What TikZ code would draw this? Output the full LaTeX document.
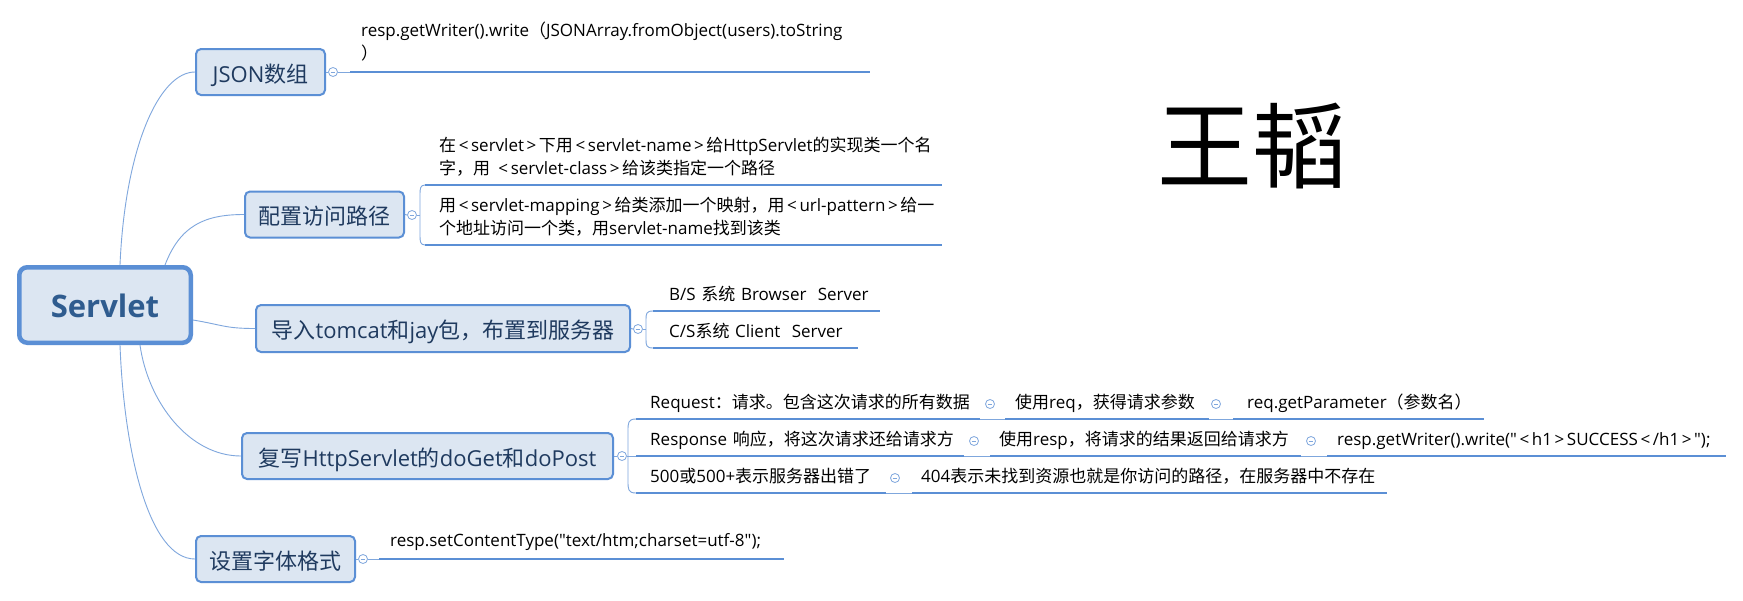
\documentclass[tikz,border=0pt]{standalone}
\usepackage{fontspec}
\setmainfont{Open Sans}
\newfontfamily\latfont[Scale=1.0]{Open Sans}
\newfontfamily\cjkfont{Noto Sans CJK SC}
\usetikzlibrary{calc}
\XeTeXinterchartokenstate=1
\newXeTeXintercharclass\cjkclass
\newcount\cjkidx
\newcommand\setcjkrange[2]{%
  \cjkidx=#1\relax
  \loop
    \XeTeXcharclass\cjkidx=\cjkclass
  \ifnum\cjkidx<#2\relax
    \advance\cjkidx by 1\relax
  \repeat}
\setcjkrange{"4E00}{"9FFF}
\setcjkrange{"3000}{"303F}
\setcjkrange{"FF00}{"FFEF}
\XeTeXinterchartoks 0 \cjkclass = {\cjkfont}
\XeTeXinterchartoks 4095 \cjkclass = {\cjkfont}
\XeTeXinterchartoks \cjkclass 0 = {\latfont}
\XeTeXinterchartoks 4095 0 = {\latfont}
\definecolor{boxfill}{HTML}{DCE6F2}
\definecolor{boxline}{HTML}{5B8FD5}
\definecolor{ulcol}{HTML}{5B8FD5}
\definecolor{linkcol}{HTML}{7FA7DD}
\definecolor{toptext}{HTML}{1F3A5F}
\definecolor{roottext}{HTML}{2F5C8F}
\newcommand\subsize{\fontsize{17}{23}\selectfont}
\newcommand\topsize{\fontsize{22}{26}\selectfont}
\newcommand\topicline[2]{\hspace*{#1}\mbox{#2}}
\newcommand\tstrut{\rule[-5pt]{0pt}{5pt}}
\newcommand\LT{\kern2.6pt<\kern2.6pt}
\newcommand\GT{\kern2.6pt>\kern2.6pt}
\begin{document}
\begin{tikzpicture}[x=1pt,y=-1pt,
  rootbox/.style={draw=boxline, line width=4.5pt, fill=boxfill, rounded corners=8pt,
    minimum width=171.5pt, minimum height=75.5pt, inner sep=0pt,
    text height=24pt, text depth=0pt, text=roottext,
    font=\fontsize{31}{36}\selectfont\bfseries},
  topbox/.style={draw=boxline, line width=2pt, fill=boxfill, rounded corners=5pt,
    minimum height=46pt, inner sep=0pt, text height=20pt, text depth=0pt,
    text=toptext, font=\topsize},
  sub/.style={anchor=south west, inner xsep=0pt, inner ysep=5pt, align=left,
    font=\subsize, text=black},
  ul/.style={draw=ulcol, line width=2.8pt},
  link/.style={draw=linkcol, line width=0.9pt},
  fold/.style={circle, draw=linkcol, fill=white, line width=0.8pt, minimum size=9pt, inner sep=0pt,
    path picture={\draw[linkcol, line width=0.8pt] ($(path picture bounding box.center)+(-2.3,0)$) -- ($(path picture bounding box.center)+(2.3,0)$);}},
  bigname/.style={font=\fontsize{95}{100}\selectfont, inner sep=0pt, text=black, anchor=base}
]
\fill[white] (0,0) rectangle (1743,600);
\useasboundingbox (0,0) rectangle (1743,600);

% main topics
\node[rootbox] (root) at (105,305) {Servlet};
\node[topbox, minimum width=129pt] (json) at (260.5,72) {JSON数组};
\node[topbox, minimum width=159pt] (pz) at (324.5,214.5) {配置访问路径};
\node[topbox, minimum width=374pt, minimum height=47pt] (dr) at (443,328.5) {导入tomcat和jay包，布置到服务器};
\node[topbox, minimum width=371pt] (fx) at (427.5,456) {复写HttpServlet的doGet和doPost};
\node[topbox, minimum width=159pt] (sz) at (275.5,559) {设置字体格式};

% fold markers
\node[fold] (cjson) at (333,72) {};
\node[fold] (cpz) at (412,215) {};
\node[fold] (cdr) at (638,329) {};
\node[fold] (cfx) at (622,456) {};
\node[fold] (csz) at (363,559) {};
\node[fold] (cr1) at (990,404) {};
\node[fold] (cr1b) at (1216,404) {};
\node[fold] (cr2) at (974,441) {};
\node[fold] (cr2b) at (1311,441) {};
\node[fold] (cr3) at (895,478) {};

% sub topics
\node[sub, text width=520pt, inner ysep=7.5pt] (j1) at (350,72) {\topicline{11pt}{resp.getWriter().write（JSONArray.fromObject(users).toString}\\\topicline{11pt}{）\tstrut}};
\node[sub, text width=517pt] (p1) at (425,185) {\topicline{14pt}{在\LT servlet\GT 下用\LT servlet-name\GT 给HttpServlet的实现类一个名}\\\topicline{14pt}{字，用 \LT servlet-class\GT 给该类指定一个路径\tstrut}};
\node[sub, text width=517pt] (p2) at (425,245) {\topicline{14pt}{用\LT servlet-mapping\GT 给类添加一个映射，用\LT url-pattern\GT 给一}\\\topicline{14pt}{个地址访问一个类，用servlet-name找到该类\tstrut}};
\node[sub, text width=227pt] (d1) at (653,311) {\topicline{16pt}{B/S 系统 Browser\ \ Server\tstrut}};
\node[sub, text width=205pt] (d2) at (653,348) {\topicline{16pt}{C/S系统 Client\ \ Server\tstrut}};
\node[sub, text width=344pt] (r1) at (636,419) {\topicline{14pt}{Request：请求。包含这次请求的所有数据\tstrut}};
\node[sub, text width=204pt] (r1b) at (1005,419) {\topicline{10pt}{使用req，获得请求参数\tstrut}};
\node[sub, text width=251pt] (r1c) at (1233,419) {\topicline{14pt}{req.getParameter（参数名）\tstrut}};
\node[sub, text width=328pt] (r2) at (636,456) {\topicline{14pt}{Response 响应，将这次请求还给请求方\tstrut}};
\node[sub, text width=311pt] (r2b) at (990,456) {\topicline{9pt}{使用resp，将请求的结果返回给请求方\tstrut}};
\node[sub, text width=399pt] (r2c) at (1327,456) {\topicline{10pt}{resp.getWriter().write("\LT h1\GT SUCCESS\LT/h1\GT");\tstrut}};
\node[sub, text width=250pt] (r3) at (636,493) {\topicline{14pt}{500或500+表示服务器出错了\tstrut}};
\node[sub, text width=475pt] (r3b) at (912,493) {\topicline{9pt}{404表示未找到资源也就是你访问的路径，在服务器中不存在\tstrut}};
\node[sub, text width=405pt, inner ysep=7pt] (s1) at (379,559) {\topicline{11pt}{resp.setContentType("text/htm;charset=utf-8");\tstrut}};

% name
\node[bigname] (name) at (1252,181) {王韬};

% branches from root
\draw[link] ($(root.north)+(15,0)$) .. controls +(5,-117) and +(-36,0) .. (json.west);
\draw[link] ($(root.north)+(60,0)$) .. controls +(15,-39) and +(-40,0) .. (pz.west);
\draw[link] ($(root.east)+(0,15)$) .. controls +(30,5) and +(-30,0) .. (dr.west);
\draw[link] ($(root.south)+(35,0)$) .. controls +(8,57) and +(-52,0) .. (fx.west);
\draw[link] ($(root.south)+(15,0)$) .. controls +(4,107) and +(-46,0) .. (sz.west);

% topic to fold markers
\draw[link] (json.east) -- (cjson.west);
\draw[link] (pz.east) -- (cpz.west);
\draw[link] (dr.east) -- (cdr.west);
\draw[link] (fx.east) -- (cfx.west);
\draw[link] (sz.east) -- (csz.west);

% single children
\draw[link] (cjson.east) -- (j1.south west);
\draw[link] (csz.east) -- (s1.south west);

% brackets
\coordinate (bpz) at (420,215);
\draw[link] (cpz.east) -- (bpz);
\draw[link] (p1.south west) .. controls +(-5,0) and +(0,-6) .. ($(p1.south west)+(-5,10)$) -- ($(p2.south west)+(-5,-10)$) .. controls +(0,6) and +(-5,0) .. (p2.south west);
\coordinate (bdr) at (646,329);
\draw[link] (cdr.east) -- (bdr);
\draw[link] (d1.south west) .. controls +(-7,0) and +(0,-6) .. ($(d1.south west)+(-7,9)$) -- ($(d2.south west)+(-7,-9)$) .. controls +(0,6) and +(-7,0) .. (d2.south west);
\draw[link] (cfx.east) -- (r2.south west);
\draw[link] (r1.south west) .. controls +(-8,0) and +(0,-8) .. ($(r1.south west)+(-8,12)$) -- ($(r3.south west)+(-8,-12)$) .. controls +(0,8) and +(-8,0) .. (r3.south west);

% row links
\draw[link] (r1.south east) -- (r1b.south west);
\draw[link] (r1b.south east) -- (r1c.south west);
\draw[link] (r2.south east) -- (r2b.south west);
\draw[link] (r2b.south east) -- (r2c.south west);
\draw[link] (r3.south east) -- (r3b.south west);

% underlines
\foreach \n in {j1,p1,p2,d1,d2,r1,r1b,r1c,r2,r2b,r2c,r3,r3b,s1}
  \draw[ul] (\n.south west) -- (\n.south east);
\end{tikzpicture}
\end{document}
